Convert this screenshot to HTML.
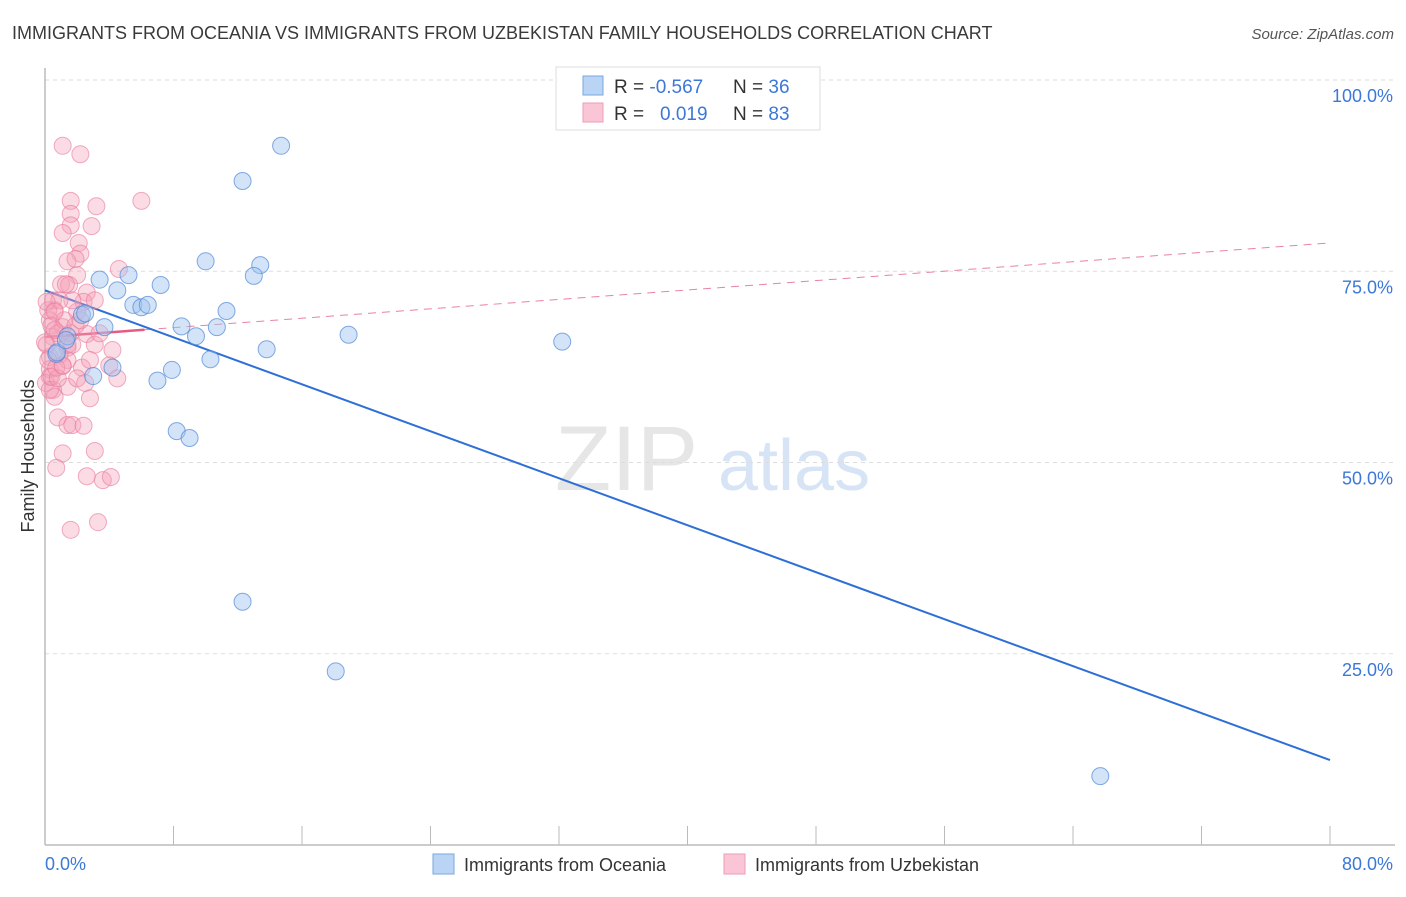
<!DOCTYPE html>
<html><head><meta charset="utf-8"><style>
body{margin:0;background:#fff;font-family:"Liberation Sans",sans-serif}
svg text{font-family:"Liberation Sans",sans-serif}
</style></head><body>
<svg id="chart" width="1406" height="892" viewBox="0 0 1406 892" xmlns="http://www.w3.org/2000/svg">
<text x="12" y="39" font-size="18" fill="#3a3a3a">IMMIGRANTS FROM OCEANIA VS IMMIGRANTS FROM UZBEKISTAN FAMILY HOUSEHOLDS CORRELATION CHART</text>
<text x="1394" y="39" font-size="15" fill="#555" font-style="italic" text-anchor="end">Source: ZipAtlas.com</text>
<g>
<text x="555" y="490" font-size="92" fill="#e6e6e6" font-family="Liberation Serif">ZIP</text>
<text x="718" y="490" font-size="72" fill="#d6e4f5">atlas</text>
</g>
<g id="grid"></g><g id="axes"></g><g id="lines"></g><g id="pts"></g>
<text transform="translate(34,456) rotate(-90)" font-size="18" fill="#333" text-anchor="middle">Family Households</text>
<g>
<rect x="556" y="67" width="264" height="63" fill="#fff" stroke="#ddd"/>
<rect x="583" y="76" width="20" height="19" fill="#b9d4f5" stroke="#7aa7e0"/>
<rect x="583" y="103" width="20" height="19" fill="#fac6d6" stroke="#ee9db6"/>
<text x="614" y="93" font-size="19" fill="#333">R = <tspan fill="#3b78d8">-0.567</tspan></text>
<text x="733" y="93" font-size="19" fill="#333">N = <tspan fill="#3b78d8">36</tspan></text>
<text x="614" y="120" font-size="19" fill="#333">R = <tspan fill="#3b78d8" x="660">0.019</tspan></text>
<text x="733" y="120" font-size="19" fill="#333">N = <tspan fill="#3b78d8">83</tspan></text>
</g>
<g>
<rect x="433" y="854" width="21" height="20" fill="#b9d4f5" stroke="#7aa7e0"/>
<text x="464" y="871" font-size="18" fill="#333">Immigrants from Oceania</text>
<rect x="724" y="854" width="21" height="20" fill="#fac6d6" stroke="#ee9db6"/>
<text x="755" y="871" font-size="18" fill="#333">Immigrants from Uzbekistan</text>
</g>
</svg>
<script>
const blueX=[14.7,12.3,10.0,13.4,13.0,5.2,3.4,4.5,7.2,5.5,6.0,6.4,11.3,2.3,8.5,10.7,9.4,3.7,1.4,18.9,32.2,13.8,0.7,10.3,4.2,7.9,3.0,7.0,8.2,9.0,12.3,18.1,65.7,0.75,1.3,2.5];
const blueY=[91.4,86.8,76.3,75.8,74.4,74.5,73.9,72.5,73.2,70.6,70.3,70.6,69.8,69.3,67.8,67.7,66.5,67.7,66.5,66.7,65.8,64.8,64.2,63.5,62.4,62.1,61.3,60.7,54.1,53.2,31.8,22.7,9.0,64.4,66.0,69.5];
const pinkX=[1.1,2.2,1.6,3.2,6.0,1.6,1.6,1.1,2.9,2.1,2.2,1.4,1.9,2.0,4.6,1.0,1.5,2.6,0.5,0.6,2.0,2.4,0.3,1.1,2.6,3.1,0.5,1.4,4.2,0.3,1.4,2.3,4.0,4.5,0.3,1.4,2.0,2.8,0.5,0.6,0.8,1.4,1.7,2.4,3.1,1.1,0.7,2.6,3.6,4.1,1.6,3.3,
0.2,0.4,0.1,0.9,0.3,0.06,0.8,1.2,1.7,0.2,0.6,0.9,0.0,1.6,1.1,0.3,1.9,1.4,0.4,0.8,2.2,2.8,3.4,2.5,0.7,1.1,1.7,0.1,1.3,0.6,3.1];
const pinkY=[91.4,90.3,84.2,83.5,84.2,82.5,81.0,80.0,80.9,78.7,77.3,76.3,76.6,74.5,75.3,73.3,73.2,72.2,71.2,69.9,69.7,71.0,68.6,67.7,66.8,65.4,66.4,65.0,64.7,63.8,63.4,62.4,62.7,61.0,61.2,59.9,61.0,58.4,59.5,58.6,55.9,54.9,54.9,54.8,51.5,51.2,49.3,48.2,47.7,48.1,41.2,42.2,
69.9,67.9,65.4,64.1,62.2,60.4,66.9,68.6,71.2,63.4,67.3,71.2,65.7,66.9,62.6,59.5,67.9,65.4,61.2,61.0,68.6,63.4,66.9,60.4,62.4,62.7,65.4,71.0,73.3,69.7,71.2];
const yTicks=[25,50,75,100];
const yTickLabels=["25.0%","50.0%","75.0%","100.0%"];
const xTicks=[0,8,16,24,32,40,48,56,64,72,80];
const xEndLabels=["0.0%","80.0%"];
const blueFit=[72.5,11.1];
const pinkFit=[66.4,78.7];
const pinkSolidEnd=6.2;

const NS="http://www.w3.org/2000/svg";
const X=v=>45+v/80*1285, Y=v=>845-v/100*765;
function mk(tag,parent,attrs){const e=document.createElementNS(NS,tag);for(const k in attrs)e.setAttribute(k,attrs[k]);document.getElementById(parent).appendChild(e);return e;}
yTicks.forEach((t,i)=>{
 const g=mk('line','grid',{x1:45,x2:1395,y1:Y(t),y2:Y(t),stroke:'#ddd','stroke-dasharray':'4,4'});
 
 
 const l=mk('text','axes',{x:1393,y:Y(t)+22,'font-size':18,fill:'#3b78d8','text-anchor':'end'});
 l.textContent=yTickLabels[i];
 
 
});
const ax=mk('line','axes',{x1:45,x2:1395,y1:845,y2:845,stroke:'#bbb','stroke-width':1.5});


const ay=mk('line','axes',{x1:45,x2:45,y1:68,y2:845,stroke:'#bbb','stroke-width':1.5});


xTicks.forEach(t=>{
 const k=mk('line','axes',{x1:X(t),x2:X(t),y1:826,y2:845,stroke:'#bbb'});
 
 
});
const xl0=mk('text','axes',{x:45,y:870,'font-size':18,fill:'#3b78d8'});
xl0.textContent=xEndLabels[0];


const xl1=mk('text','axes',{x:1393,y:870,'font-size':18,fill:'#3b78d8','text-anchor':'end'});
xl1.textContent=xEndLabels[1];


pinkX.forEach((x,i)=>{
 const c=mk('circle','pts',{cx:X(x),cy:Y(pinkY[i]),r:8.5,fill:'rgba(245,160,185,0.38)',stroke:'rgba(232,120,155,0.6)','stroke-width':1});
 
 
});
blueX.forEach((x,i)=>{
 const c=mk('circle','pts',{cx:X(x),cy:Y(blueY[i]),r:8.5,fill:'rgba(160,195,240,0.45)',stroke:'rgba(80,135,215,0.7)','stroke-width':1});
 
 
});
const pf=x=>pinkFit[0]+(pinkFit[1]-pinkFit[0])*x/80;
const pd=mk('line','lines',{x1:X(pinkSolidEnd),y1:Y(pf(pinkSolidEnd)),x2:X(80),y2:Y(pinkFit[1]),stroke:'#e9839f','stroke-width':1,'stroke-dasharray':'8,6'});


const ps=mk('line','lines',{x1:X(0),y1:Y(pinkFit[0]),x2:X(pinkSolidEnd),y2:Y(pf(pinkSolidEnd)),stroke:'#e65a84','stroke-width':2.5});


const bl=mk('line','lines',{x1:X(0),y1:Y(blueFit[0]),x2:X(80),y2:Y(blueFit[1]),stroke:'#2d6fd6','stroke-width':2});


</script>
</body></html>
